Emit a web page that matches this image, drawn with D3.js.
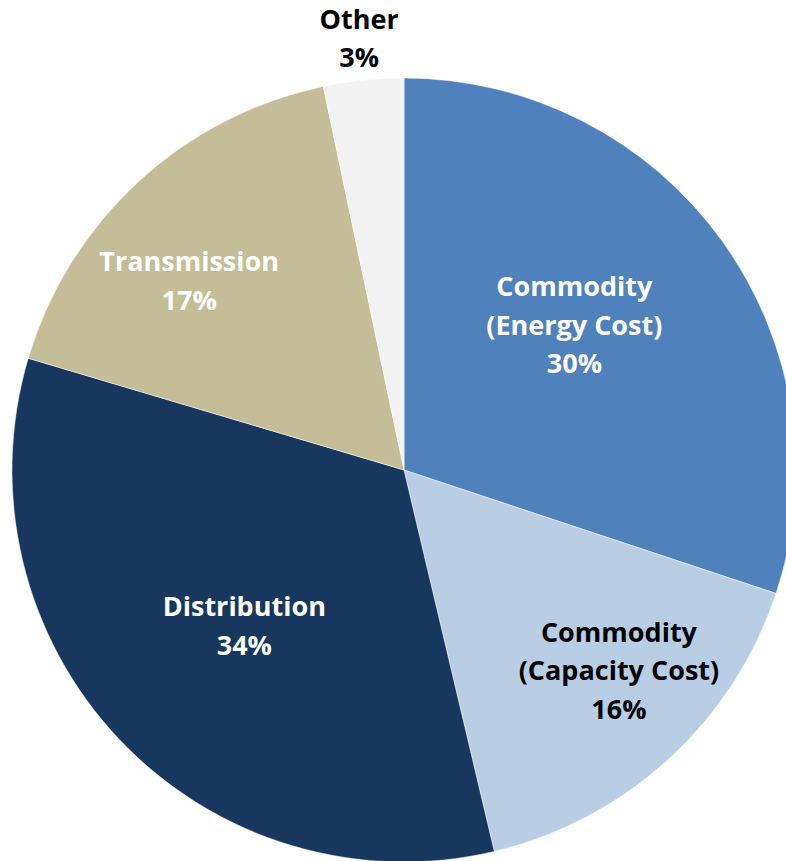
<!DOCTYPE html>
<html><head><meta charset="utf-8">
<script src="https://cdn.jsdelivr.net/npm/d3@7"></script>
<style>html,body{margin:0;padding:0;background:#fff;overflow:hidden}</style>
</head><body>
<svg id="chart" width="786" height="861"></svg>
<script>
const categories = ["Commodity\n(Energy Cost)", "Commodity\n(Capacity Cost)", "Distribution", "Transmission", "Other"];
const values = [30.1, 16.2, 33.3, 17.1, 3.3];
const percentLabels = ["30%", "16%", "34%", "17%", "3%"];
const colors = ["#4F81BD", "#B9CDE5", "#17375E", "#C4BD97", "#F2F2F2"];
const labelColors = ["#fff", "#000", "#fff", "#fff", "#000"];
const labelRadiusFrac = [0.57, 0.75, 0.57, 0.73, 1.107];
const labelAngleShift = [-4.5, -4.5, -1, -6, 0];

const cx = 404, cy = 470, R = 392;
const svg = d3.select("#chart");
const g = svg.append("g").attr("transform", `translate(${cx},${cy})`);
const data = categories.map((c, i) => ({cat: c, value: values[i], pct: percentLabels[i], i}));
const pie = d3.pie().value(d => d.value).sort(null);
const arc = d3.arc().innerRadius(0).outerRadius(R);
const arcs = pie(data);

g.selectAll("path").data(arcs).join("path")
  .attr("d", arc)
  .attr("fill", d => colors[d.data.i])
  .attr("stroke", "rgba(255,255,255,0.5)")
  .attr("stroke-width", 1);

const lineH = 38.5;
arcs.forEach(d => {
  const i = d.data.i;
  const a = (d.startAngle + d.endAngle) / 2 + labelAngleShift[i] * Math.PI / 180;
  const r = R * labelRadiusFrac[i];
  const x = r * Math.sin(a), y = -r * Math.cos(a);
  const lines = d.data.cat.split("\n").concat([d.data.pct]);
  const t = g.append("text")
    .attr("text-anchor", "middle")
    .attr("font-family", "'Open Sans', sans-serif")
    .attr("font-weight", "bold")
    .attr("font-size", 27)
    .attr("fill", labelColors[i]);
  const y0 = y - (lines.length - 1) * lineH / 2;
  lines.forEach((ln, k) => {
    t.append("tspan").attr("x", x).attr("y", y0 + k * lineH).attr("dy", "0.35em").text(ln);
  });
});
</script>
</body></html>
